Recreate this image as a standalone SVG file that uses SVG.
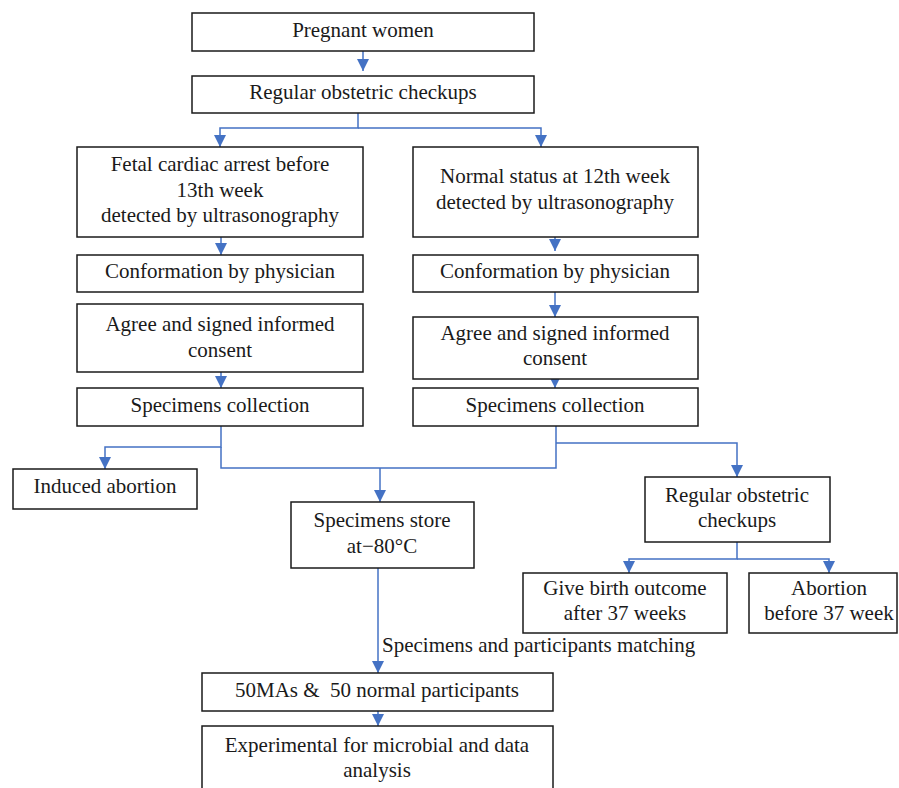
<svg xmlns="http://www.w3.org/2000/svg" width="899" height="788" viewBox="0 0 899 788">
<defs>
<marker id="ah" markerUnits="userSpaceOnUse" viewBox="0 0 12 12" markerWidth="12" markerHeight="12" refX="12" refY="6" orient="auto">
<path d="M0,0 L12,6 L0,12 z" fill="#4472C4"/>
</marker>
<style>
.box{fill:#fff;stroke:#1a1a1a;stroke-width:1.5}
.t{font-family:"Liberation Serif","Times New Roman",serif;font-size:21px;fill:#1a1a1a;text-anchor:middle}
.c{fill:none;stroke:#4472C4;stroke-width:1.5}
</style>
</defs>
<rect width="899" height="788" fill="#fff"/>
<g id="connectors">
<path class="c" d="M363,51 V71" marker-end="url(#ah)"/>
<path class="c" d="M358,113 V128 H220 V147" marker-end="url(#ah)"/>
<path class="c" d="M358,128 H541 V147" marker-end="url(#ah)"/>
<path class="c" d="M221,237 V255" marker-end="url(#ah)"/>
<path class="c" d="M221,372 V388" marker-end="url(#ah)"/>
<path class="c" d="M555,237 V251" marker-end="url(#ah)"/>
<path class="c" d="M555,292 V317" marker-end="url(#ah)"/>
<path class="c" d="M555,372 V388" marker-end="url(#ah)"/>
<path class="c" d="M221,426 V447 H105 V469" marker-end="url(#ah)"/>
<path class="c" d="M221,447 V468 H556 V426"/>
<path class="c" d="M556,443 H737 V477" marker-end="url(#ah)"/>
<path class="c" d="M380,468 V502" marker-end="url(#ah)"/>
<path class="c" d="M737,542 V559 H629 V573" marker-end="url(#ah)"/>
<path class="c" d="M737,559 H829 V573" marker-end="url(#ah)"/>
<path class="c" d="M378,568 V673" marker-end="url(#ah)"/>
<path class="c" d="M378,711 V726" marker-end="url(#ah)"/>
<text class="t" x="382" y="652" style="text-anchor:start">Specimens and participants matching</text>
</g>
<g id="n1"><rect class="box" x="192" y="13" width="342" height="38"/><text class="t" x="363" y="37">Pregnant women</text></g>
<g id="n2"><rect class="box" x="192" y="76" width="342" height="37"/><text class="t" x="363" y="99">Regular obstetric checkups</text></g>
<g id="n3"><rect class="box" x="77" y="147" width="286" height="90"/><text class="t" x="220" y="171">Fetal cardiac arrest before</text><text class="t" x="220" y="197">13th week</text><text class="t" x="220" y="222">detected by ultrasonography</text></g>
<g id="n4"><rect class="box" x="413" y="147" width="285" height="90"/><text class="t" x="555" y="183">Normal status at 12th week</text><text class="t" x="555" y="209">detected by ultrasonography</text></g>
<g id="n5"><rect class="box" x="77" y="255" width="286" height="37"/><text class="t" x="220" y="278">Conformation by physician</text></g>
<g id="n6"><rect class="box" x="413" y="255" width="285" height="37"/><text class="t" x="555" y="278">Conformation by physician</text></g>
<g id="n7"><rect class="box" x="77" y="304" width="286" height="68"/><text class="t" x="220" y="331">Agree and signed informed</text><text class="t" x="220" y="357">consent</text></g>
<g id="n8"><rect class="box" x="413" y="317" width="285" height="62"/><text class="t" x="555" y="340">Agree and signed informed</text><text class="t" x="555" y="365">consent</text></g>
<g id="n9"><rect class="box" x="77" y="388" width="286" height="38"/><text class="t" x="220" y="412">Specimens collection</text></g>
<g id="n10"><rect class="box" x="413" y="388" width="285" height="38"/><text class="t" x="555" y="412">Specimens collection</text></g>
<g id="n11"><rect class="box" x="13" y="469" width="184" height="40"/><text class="t" x="105" y="493">Induced abortion</text></g>
<g id="n12"><rect class="box" x="291" y="502" width="183" height="66"/><text class="t" x="382" y="527">Specimens store</text><text class="t" x="382" y="553">at−80°C</text></g>
<g id="n13"><rect class="box" x="645" y="477" width="185" height="65"/><text class="t" x="737" y="502">Regular obstetric</text><text class="t" x="737" y="527">checkups</text></g>
<g id="n14"><rect class="box" x="523" y="573" width="204" height="60"/><text class="t" x="625" y="595">Give birth outcome</text><text class="t" x="625" y="620">after 37 weeks</text></g>
<g id="n15"><rect class="box" x="749" y="573" width="148" height="60"/><text class="t" x="829" y="595">Abortion</text><text class="t" x="829" y="620">before 37 week</text></g>
<g id="n16"><rect class="box" x="202" y="673" width="351" height="38"/><text class="t" x="377" y="697" xml:space="preserve">50MAs &amp;  50 normal participants</text></g>
<g id="n17"><rect class="box" x="202" y="726" width="351" height="70"/><text class="t" x="377" y="752">Experimental for microbial and data</text><text class="t" x="377" y="777">analysis</text></g>
</svg>
